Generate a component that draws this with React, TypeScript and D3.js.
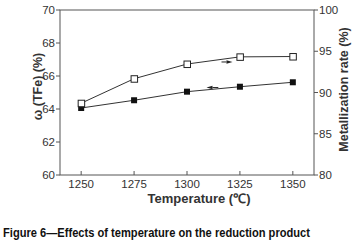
import React from "react";
import * as d3 from "d3";

const temperatures = [1250, 1275, 1300, 1325, 1350];
const tfeValues = [64.06, 64.53, 65.05, 65.35, 65.62];
const metallizationValues = [88.7, 91.67, 93.45, 94.32, 94.36];
const xTicks = [1250, 1275, 1300, 1325, 1350];
const leftTicks = [60, 62, 64, 66, 68, 70];
const rightTicks = [80, 85, 90, 95, 100];
// arrows: [x0, x1, y]
const metalArrow = [1316.3, 1321.5, 93.7];
const tfeArrow = [1314.8, 1309.2, 65.3];

const W = 354;
const H = 242;
const M = { left: 60, right: 314, top: 10, bottom: 175 };
const FONT = "'Liberation Sans', Arial, sans-serif";

export default function App() {
  const x = d3.scaleLinear().domain([1240, 1360]).range([M.left, M.right]);
  const yL = d3.scaleLinear().domain([60, 70]).range([M.bottom, M.top]);
  const yR = d3.scaleLinear().domain([80, 100]).range([M.bottom, M.top]);

  const lineL = d3
    .line<number>()
    .x((_, i) => x(temperatures[i]))
    .y((d) => yL(d));
  const lineR = d3
    .line<number>()
    .x((_, i) => x(temperatures[i]))
    .y((d) => yR(d));

  const axisColor = "#555";
  const textColor = "#333";

  const arrow = (x0: number, x1: number, y: number) => {
    const dir = x1 > x0 ? 1 : -1;
    const head = 6;
    return (
      <g>
        <line x1={x0} y1={y} x2={x1 - dir * head} y2={y} stroke="#222" strokeWidth={1} />
        <path
          d={`M${x1},${y} L${x1 - dir * head},${y - 1.8} L${x1 - dir * head},${y + 1.8} Z`}
          fill="#222"
        />
      </g>
    );
  };

  return (
    <svg
      width={W}
      height={H}
      style={{ position: "absolute", left: 0, top: 0, background: "#fff" }}
      fontFamily={FONT}
    >
      <rect width={W} height={H} fill="#fff" />
      {/* frame */}
      <rect
        x={M.left}
        y={M.top}
        width={M.right - M.left}
        height={M.bottom - M.top}
        fill="none"
        stroke={axisColor}
        strokeWidth={1}
      />
      {/* x ticks (inward) */}
      {xTicks.map((t) => (
        <g key={"x" + t}>
          <line x1={x(t)} x2={x(t)} y1={M.bottom} y2={M.bottom - 4} stroke={axisColor} />
          <text
            x={x(t)}
            y={M.bottom + 13}
            textAnchor="middle"
            fontSize={11.5}
            fill={textColor}
          >
            {t}
          </text>
        </g>
      ))}
      {/* left ticks */}
      {leftTicks.map((t) => (
        <g key={"l" + t}>
          <line x1={M.left - 4} x2={M.left} y1={yL(t)} y2={yL(t)} stroke={axisColor} />
          <text
            x={M.left - 5}
            y={yL(t) + 4}
            textAnchor="end"
            fontSize={11.5}
            fill={textColor}
          >
            {t}
          </text>
        </g>
      ))}
      {/* right ticks */}
      {rightTicks.map((t) => (
        <g key={"r" + t}>
          <line x1={M.right} x2={M.right + 4} y1={yR(t)} y2={yR(t)} stroke={axisColor} />
          <text
            x={M.right + 5}
            y={yR(t) + 4}
            textAnchor="start"
            fontSize={11.5}
            fill={textColor}
          >
            {t}
          </text>
        </g>
      ))}
      {/* lines */}
      <path d={lineL(tfeValues) || ""} fill="none" stroke="#333" strokeWidth={1} />
      <path d={lineR(metallizationValues) || ""} fill="none" stroke="#333" strokeWidth={1} />
      {/* markers */}
      {tfeValues.map((v, i) => (
        <rect
          key={"f" + i}
          x={x(temperatures[i]) - 3}
          y={yL(v) - 3}
          width={6}
          height={6}
          fill="#111"
        />
      ))}
      {metallizationValues.map((v, i) => (
        <rect
          key={"o" + i}
          x={x(temperatures[i]) - 3}
          y={yR(v) - 3}
          width={6.5}
          height={6.5}
          fill="#fff"
          stroke="#222"
          strokeWidth={1}
        />
      ))}
      {/* arrows */}
      {arrow(x(metalArrow[0]), x(metalArrow[1]), yR(metalArrow[2]))}
      {arrow(x(tfeArrow[0]), x(tfeArrow[1]), yL(tfeArrow[2]))}
      {/* axis titles */}
      <text
        transform={`translate(42,${(M.top + M.bottom) / 2 - 6}) rotate(-90)`}
        textAnchor="middle"
        fontSize={12.5}
        fontWeight="bold"
        fill={textColor}
      >
        ω (TFe) (%)
      </text>
      <text
        transform={`translate(348,${(M.top + M.bottom) / 2 - 3}) rotate(-90)`}
        textAnchor="middle"
        fontSize={12.5}
        fontWeight="bold"
        fill={textColor}
      >
        Metallization rate (%)
      </text>
      <text
        x={(M.left + M.right) / 2 + 12}
        y={203}
        textAnchor="middle"
        fontSize={13}
        fontWeight="bold"
        fill={textColor}
      >
        Temperature (℃)
      </text>
      <text
        x={3}
        y={237}
        fontSize={12.5}
        fontWeight="bold"
        fill="#111"
        textLength={307}
        lengthAdjust="spacingAndGlyphs"
      >
        Figure 6—Effects of temperature on the reduction product
      </text>
    </svg>
  );
}
